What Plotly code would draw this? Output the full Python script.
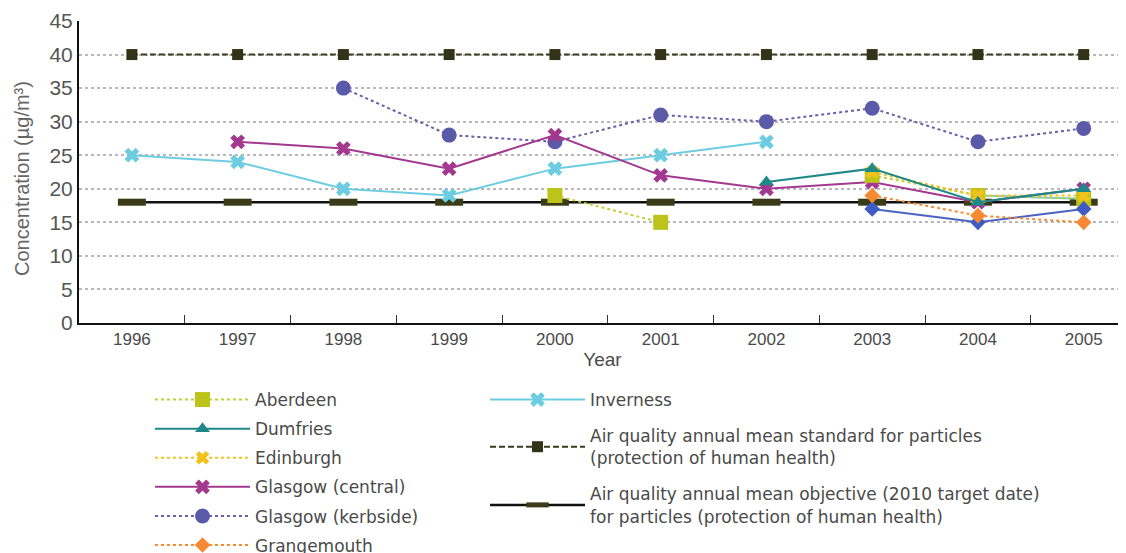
import plotly.graph_objects as go

years = ["1996", "1997", "1998", "1999", "2000", "2001", "2002", "2003", "2004", "2005"]

aberdeen = [None, None, None, None, 19, 15, None, 22, 19, 18.5]
dumfries = [None, None, None, None, None, None, 21, 23, 18, 20]
edinburgh = [None, None, None, None, None, None, None, 22.5, 19, 19]
glasgow_central = [None, 27, 26, 23, 28, 22, 20, 21, 18, 20]
glasgow_kerbside = [None, None, 35, 28, 27, 31, 30, 32, 27, 29]
grangemouth = [None, None, None, None, None, None, None, 19, 16, 15]
inverness = [25, 24, 20, 19, 23, 25, 27, None, 19, 18.5]
other_site = [None, None, None, None, None, None, None, 17, 15, 17]
standard = [40] * 10
objective = [18] * 10

names_col1 = ["Aberdeen", "Dumfries", "Edinburgh", "Glasgow (central)",
              "Glasgow (kerbside)", "Grangemouth"]
names_col2 = ["Inverness",
              "Air quality annual mean standard for particles<br>(protection of human health)",
              "Air quality annual mean objective (2010 target date)<br>for particles (protection of human health)"]
y_title = "Concentration (µg/m³)"
x_title = "Year"

TXT = "#4a4a4a"
FONT = "DejaVu Sans"
NARROW = "Liberation Sans Narrow, Liberation Sans"
W, H = 1118, 545  # page body adds an 8 px offset

fig = go.Figure()

def add(name, y, color, symbol, size, dash="solid", legend="legend", rank=1000,
        show=True, lcolor=None, lwidth=2, mline=None, mlw=0):
    fig.add_trace(go.Scatter(
        x=years, y=y, name=name, mode="lines+markers", connectgaps=False,
        line=dict(color=lcolor or color, width=lwidth, dash=dash),
        marker=dict(symbol=symbol, size=size, color=color,
                    line=dict(color=mline or color, width=mlw)),
        legend=legend, legendgroup=name, legendrank=rank, showlegend=show))

add(names_col2[1], standard, "#333318", "square", 11, dash="6px,3px", legend="legend2",
    rank=2, lcolor="#3b3b1e", lwidth=2)
add(names_col2[2], objective, "#3b3b17", "line-ew-open", 20, legend="legend2",
    rank=3, lcolor="#111111", lwidth=2.5, mline="#3b3b17", mlw=7)
add(names_col2[0], inverness, "#6ccde0", "x", 13, legend="legend2", rank=1)
add(names_col1[4], glasgow_kerbside, "#5a5aa8", "circle", 15, dash="dot", rank=5,
    lcolor="#6a5fa8")
add(names_col1[3], glasgow_central, "#a3388f", "x", 13, rank=4)
add(names_col1[0], aberdeen, "#bcc41c", "square", 15, dash="dot", rank=1, lcolor="#c5cf35")
add("Other site", other_site, "#3f5cc4", "diamond", 12, show=False, lcolor="#4a63c0")
add(names_col1[5], grangemouth, "#f58a33", "diamond", 12, dash="dot", rank=6)
add(names_col1[2], edinburgh, "#f1c21a", "x", 12, dash="dot", rank=3)
add(names_col1[1], dumfries, "#1f8888", "triangle-up", 13, rank=2)

legend_common = dict(
    font=dict(family=FONT, size=17, color=TXT),
    bgcolor="rgba(0,0,0,0)", itemwidth=95,
    xref="container", yref="container",
    yanchor="top", xanchor="left", traceorder="grouped",
    itemclick=False, itemdoubleclick=False,
)

fig.update_layout(
    width=W, height=H,
    margin=dict(l=71, r=0, t=13, b=230, autoexpand=False),
    plot_bgcolor="white", paper_bgcolor="white",
    font=dict(family=FONT, color=TXT),
    showlegend=True,
    legend=dict(x=142 / W, y=1 - 374 / H, tracegroupgap=4, **legend_common),
    legend2=dict(x=477 / W, y=1 - 374 / H, tracegroupgap=11, **legend_common),
    xaxis=dict(
        type="category", categoryorder="array", categoryarray=years,
        range=[-0.5, 9.4], showline=True, linecolor="#111111", linewidth=2,
        ticks="inside", tickson="boundaries", ticklen=8, tickcolor="#333333",
        showgrid=False, zeroline=False,
        tickfont=dict(family=NARROW, size=17, color=TXT),
        title=dict(text=x_title, standoff=4,
                   font=dict(family=NARROW, size=19, color=TXT)),
    ),
    yaxis=dict(
        range=[0, 45], tickvals=[0, 5, 10, 15, 20, 25, 30, 35, 40, 45],
        showline=True, linecolor="#111111", linewidth=2, ticks="",
        showgrid=True, gridcolor="#b8b8b8", gridwidth=1.5, griddash="dot",
        zeroline=False,
        tickfont=dict(family=NARROW, size=21, color="#555555"),
    ),
    annotations=[dict(
        text=y_title, textangle=-90, showarrow=False,
        xref="paper", yref="paper", x=-0.0544, y=0.477,
        xanchor="center", yanchor="middle",
        font=dict(family=NARROW, size=20, color="#666666"),
    )],
)

fig.write_html("out.html")
